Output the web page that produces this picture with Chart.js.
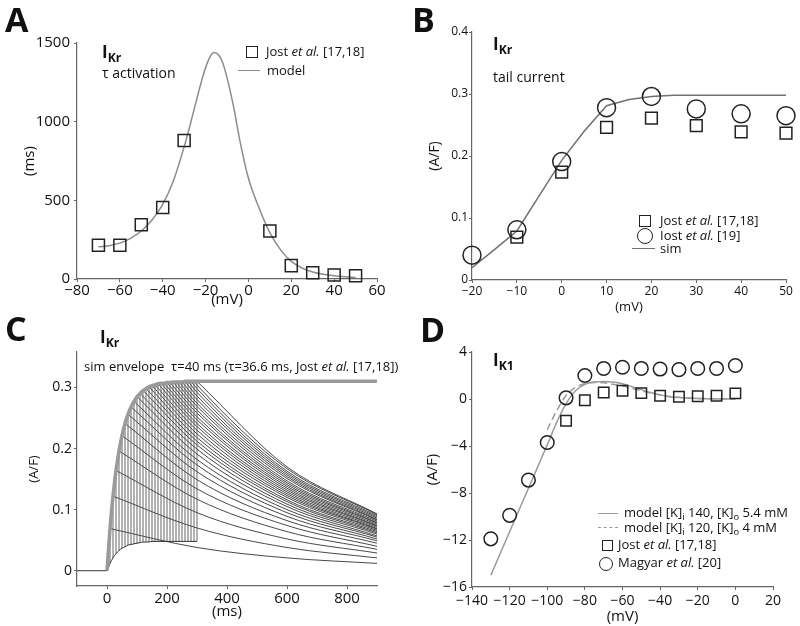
<!DOCTYPE html>
<html>
<head>
<meta charset="utf-8">
<title>IKr / IK1</title>
<script src="https://cdn.jsdelivr.net/npm/chart.js@4.4.1/dist/chart.umd.min.js"></script>
<style>
  body { margin: 0; width: 800px; height: 626px; position: relative; overflow: hidden; background: #fff;
         font-family: "Open Sans", sans-serif; color: #111; }
  canvas { position: absolute; }
  .lbl { position: absolute; white-space: pre; line-height: 1; }
  .lbl sub { vertical-align: baseline; position: relative; top: 0.3em; font-size: 0.72em; }
  .mk { position: absolute; box-sizing: border-box; border: 1.5px solid #222; background: #fff; }
  .ln { position: absolute; height: 0; }
</style>
</head>
<body>
<script>
// === A: IKr tau activation ===
const aJostVm = [-70, -60, -50, -40, -30, 10, 20, 30, 40, 50];
const aJostTau = [215, 215, 345, 455, 880, 305, 85, 40, 25, 20];
const aModelVm = [-70, -65, -60, -55, -50, -45, -40, -35, -30, -27, -24, -21, -19, -17, -16, -14, -12, -10, -7, -4, 0, 5, 10, 15, 20, 25, 30, 35, 40, 45, 50];
const aModelTau = [205, 212, 228, 258, 305, 375, 475, 625, 840, 990, 1150, 1300, 1380, 1432, 1440, 1425, 1375, 1280, 1100, 880, 640, 450, 295, 185, 112, 70, 45, 30, 20, 14, 10];
const aXTicks = [-80, -60, -40, -20, 0, 20, 40, 60];
const aYTicks = [0, 500, 1000, 1500];

// === B: IKr tail current ===
const bJostVm = [-10, 0, 10, 20, 30, 40, 50];
const bJost = [0.069, 0.174, 0.246, 0.261, 0.249, 0.239, 0.237];
const bIostVm = [-20, -10, 0, 10, 20, 30, 40, 50];
const bIost = [0.040, 0.081, 0.191, 0.278, 0.296, 0.276, 0.268, 0.265];
const bSimVm = [-20, -15, -10, -5, 0, 5, 10, 15, 20, 25, 30, 40, 50];
const bSim = [0.020, 0.049, 0.079, 0.136, 0.193, 0.240, 0.281, 0.291, 0.296, 0.298, 0.298, 0.298, 0.298];
const bXTicks = [-20, -10, 0, 10, 20, 30, 40, 50];
const bYTicks = [0, 0.1, 0.2, 0.3, 0.4];

// === C: IKr envelope of tails ===
const cPulse = [10, 20, 30, 40, 50, 60, 70, 80, 90, 100, 110, 120, 130, 140, 150, 160, 170, 180, 190, 200, 210, 220, 230, 240, 250, 260, 270, 280, 290, 300];
const cStep = [0.012, 0.021, 0.028, 0.033, 0.037, 0.039, 0.042, 0.043, 0.044, 0.045, 0.046, 0.047, 0.047, 0.047, 0.048, 0.048, 0.048, 0.048, 0.048, 0.048, 0.048, 0.048, 0.048, 0.048, 0.048, 0.048, 0.048, 0.048, 0.048, 0.048];
const cPeak = [0.069, 0.122, 0.164, 0.196, 0.221, 0.241, 0.256, 0.268, 0.277, 0.285, 0.290, 0.295, 0.298, 0.301, 0.303, 0.304, 0.306, 0.307, 0.307, 0.308, 0.308, 0.309, 0.309, 0.309, 0.309, 0.310, 0.310, 0.310, 0.310, 0.310];
const cTailT = [300, 600, 900];
const cTail300 = [0.038, 0.070, 0.095, 0.117, 0.134, 0.149, 0.162, 0.173, 0.182, 0.191, 0.199, 0.206, 0.212, 0.218, 0.224, 0.230, 0.236, 0.241, 0.247, 0.252, 0.258, 0.263, 0.269, 0.274, 0.280, 0.286, 0.292, 0.298, 0.304, 0.310];
const cTail600 = [0.021, 0.038, 0.052, 0.064, 0.074, 0.082, 0.089, 0.095, 0.100, 0.105, 0.109, 0.113, 0.116, 0.120, 0.123, 0.126, 0.129, 0.132, 0.135, 0.138, 0.141, 0.144, 0.147, 0.151, 0.154, 0.157, 0.160, 0.163, 0.167, 0.170];
const cTail900 = [0.012, 0.021, 0.029, 0.035, 0.040, 0.045, 0.049, 0.052, 0.055, 0.057, 0.060, 0.062, 0.064, 0.066, 0.068, 0.069, 0.071, 0.073, 0.074, 0.076, 0.078, 0.079, 0.081, 0.083, 0.084, 0.086, 0.088, 0.090, 0.092, 0.093];
const cBaseT = [-100, 0];
const cPlateau = 0.310;
const cXTicks = [0, 200, 400, 600, 800];
const cYTicks = [0, 0.1, 0.2, 0.3];

// === D: IK1 I-V ===
const dMagyarVm = [-130, -120, -110, -100, -90, -80, -70, -60, -50, -40, -30, -20, -10, 0];
const dMagyar = [-11.9, -9.9, -6.9, -3.7, 0.1, 2.0, 2.6, 2.7, 2.6, 2.55, 2.5, 2.6, 2.6, 2.85];
const dJostVm = [-90, -80, -70, -60, -50, -40, -30, -20, -10, 0];
const dJost = [-1.85, -0.1, 0.55, 0.7, 0.5, 0.28, 0.2, 0.23, 0.28, 0.48];
const dModel1Vm = [-130, -120, -110, -100, -95, -90, -85, -80, -75, -70, -65, -60, -55, -50, -45, -40, -35, -30, -20, -10, 0];
const dModel1 = [-15.0, -11.3, -7.6, -3.9, -2.0, -0.4, 0.7, 1.25, 1.45, 1.5, 1.45, 1.3, 1.05, 0.8, 0.55, 0.35, 0.2, 0.12, 0.04, 0.01, 0];
const dModel2Vm = [-100, -95, -90, -85, -80, -75, -70, -65, -60, -55, -50, -45, -40, -35, -30, -20, -10, 0];
const dModel2 = [-2.6, -1.0, 0.3, 1.0, 1.3, 1.4, 1.38, 1.25, 1.1, 0.9, 0.7, 0.5, 0.35, 0.22, 0.14, 0.05, 0.02, 0.01];
const dXTicks = [-140, -120, -100, -80, -60, -40, -20, 0, 20];
const dYTicks = [-16, -12, -8, -4, 0, 4];

const FONT = '"Open Sans", sans-serif';
const INK = '#111';
const AXIS = '#666';

const pts = (xs, ys) => xs.map((x, i) => ({ x: x, y: ys[i] }));

// Achse mit festen Ticks und fester Breite/Hoehe
function axis(s) {
  return {
    type: 'linear', min: s.min, max: s.max,
    afterBuildTicks: sc => { sc.ticks = s.ticks.map(v => ({ value: v })); },
    afterFit: sc => { if (sc.isHorizontal()) sc.height = s.size; else sc.width = s.size; },
    grid: { drawOnChartArea: false, tickLength: 3, color: AXIS, lineWidth: 1 },
    border: { color: AXIS, width: 1.2 },
    ticks: {
      autoSkip: false, maxRotation: 0, padding: s.tickPad, color: INK,
      font: { family: FONT, size: s.font, lineHeight: 1 },
      callback: v => String(v).replace('-', '\u2212')
    },
    title: {
      display: true, text: s.title, color: INK,
      font: { family: FONT, size: s.titleFont, lineHeight: 1 },
      padding: s.titlePad
    }
  };
}

// box = Canvas-Position, area = gewuenschte Plotflaeche (Seitenkoordinaten)
function panel(box, area, xs, ys, datasets) {
  const [L, T, W, H] = box;
  const [x0, y0, x1, y1] = area;
  const cv = document.createElement('canvas');
  cv.width = W; cv.height = H;
  cv.style.left = L + 'px'; cv.style.top = T + 'px';
  cv.style.width = W + 'px'; cv.style.height = H + 'px';
  document.body.appendChild(cv);
  xs.size = T + H - y1;
  ys.size = x0 - L;
  return new Chart(cv, {
    type: 'scatter',
    data: { datasets: datasets },
    options: {
      responsive: false, animation: false,
      layout: { autoPadding: false, padding: { left: 0, top: y0 - T, right: L + W - x1, bottom: 0 } },
      plugins: { legend: { display: false }, tooltip: { enabled: false } },
      scales: { x: axis(xs), y: axis(ys) }
    }
  });
}

function markers(data, style, radius) {
  return { data: data, showLine: false, pointStyle: style, pointRadius: radius, pointHoverRadius: radius,
           pointBorderColor: '#222', pointBorderWidth: 1.5, pointBackgroundColor: 'rgba(0,0,0,0)', clip: false };
}
function curve(data, color, width, extra) {
  return Object.assign({ data: data, showLine: true, pointRadius: 0, borderColor: color, borderWidth: width,
                         cubicInterpolationMode: 'monotone', fill: false }, extra || {});
}

// HTML-Texte
function label(x, base, html, size, weight) {
  const d = document.createElement('div');
  d.className = 'lbl';
  d.style.left = x + 'px';
  d.style.top = (base - 0.888 * size) + 'px';
  d.style.fontSize = size + 'px';
  if (weight) d.style.fontWeight = weight;
  d.innerHTML = html;
  document.body.appendChild(d);
}
function mark(cx, cy, size, round) {
  const d = document.createElement('div');
  d.className = 'mk';
  d.style.cssText = `left:${cx - size / 2}px;top:${cy - size / 2}px;width:${size}px;height:${size}px;` + (round ? 'border-radius:50%;' : '');
  document.body.appendChild(d);
}
function legLine(xa, xb, y, color, dashed) {
  const d = document.createElement('div');
  d.className = 'ln';
  d.style.cssText = `left:${xa}px;top:${y - 0.75}px;width:${xb - xa}px;border-top:1.5px ${dashed ? 'dashed' : 'solid'} ${color};`;
  document.body.appendChild(d);
}

// ---------- Panel A ----------
panel([0, 0, 400, 320], [77, 43, 377, 279],
  { min: -80, max: 60, ticks: aXTicks, font: 15, tickPad: 1.5, title: '(mV)', titleFont: 15, titlePad: { top: 0, bottom: 12.5 } },
  { min: 0, max: 1500, ticks: aYTicks, font: 15, tickPad: 4, title: '(ms)', titleFont: 15, titlePad: { top: 22.5, bottom: 0 } },
  [
    markers(pts(aJostVm, aJostTau), 'rect', 8.5),
    curve(pts(aModelVm, aModelTau), '#8c8c8c', 1.5)
  ]);

// ---------- Panel B ----------
panel([400, 0, 400, 320], [472, 32, 786, 280],
  { min: -20, max: 50, ticks: bXTicks, font: 12, tickPad: 3, title: '(mV)', titleFont: 13, titlePad: { top: 0, bottom: 6.5 } },
  { min: 0, max: 0.4, ticks: bYTicks, font: 12, tickPad: 1, title: '(A/F)', titleFont: 14, titlePad: { top: 28, bottom: 0 } },
  [
    markers(pts(bIostVm, bIost), 'circle', 9),
    markers(pts(bJostVm, bJost), 'rect', 8.3),
    curve(pts(bSimVm, bSim), '#707070', 1.5, { cubicInterpolationMode: 'default', tension: 0 })
  ]);

// ---------- Panel C ----------
const cEnv = [{ x: 0, y: 0 }].concat(pts(cPulse, cPeak), [{ x: 900, y: cPlateau }]);
const cStepCurve = pts(cBaseT, [0, 0]).concat(pts(cPulse, cStep));
const cVert = [];
cPulse.forEach((d, i) => {
  cVert.push({ x: d, y: cStep[i] }, { x: d, y: cPeak[i] }, { x: d, y: null });
});
const cTails = cPulse.map((d, i) => {
  const tailVals = [cTail300[i], cTail600[i], cTail900[i]];
  const data = [{ x: d, y: cPeak[i] }];
  cTailT.forEach((t, k) => { if (t > d) data.push({ x: t, y: tailVals[k] }); });
  return curve(data, '#333', 0.9);
});
panel([0, 313, 400, 313], [77, 352, 377, 586],
  { min: -100, max: 900, ticks: cXTicks, font: 15, tickPad: 2.5, title: '(ms)', titleFont: 15, titlePad: { top: 0, bottom: 6.5 } },
  { min: -0.025, max: 0.358, ticks: cYTicks, font: 14, tickPad: 2, title: '(A/F)', titleFont: 13, titlePad: { top: 27.5, bottom: 0 } },
  [
    curve(cEnv, '#9a9a9a', 3.5),
    curve(cStepCurve, '#333', 1),
    curve(cVert, '#555', 0.9, { cubicInterpolationMode: 'default', tension: 0, spanGaps: false })
  ].concat(cTails));

// ---------- Panel D ----------
panel([400, 313, 400, 313], [472, 352, 773, 587],
  { min: -140, max: 20, ticks: dXTicks, font: 14, tickPad: 4, title: '(mV)', titleFont: 15, titlePad: { top: 0, bottom: 1.5 } },
  { min: -16, max: 4, ticks: dYTicks, font: 14, tickPad: 2, title: '(A/F)', titleFont: 15, titlePad: { top: 25.5, bottom: 0 } },
  [
    markers(pts(dMagyarVm, dMagyar), 'circle', 6.8),
    markers(pts(dJostVm, dJost), 'rect', 7.4),
    curve(pts(dModel1Vm, dModel1), '#9a9a9a', 1.5),
    curve(pts(dModel2Vm, dModel2), '#9a9a9a', 1.5, { borderDash: [7, 4] })
  ]);

// ---------- Beschriftungen ----------
label(5, 32, 'A', 34, 700);
label(412, 32, 'B', 34, 700);
label(5, 341, 'C', 34, 700);
label(420, 342, 'D', 34, 700);

label(102, 58, 'I<sub>Kr</sub>', 17, 700);
label(102, 78, '\u03c4 activation', 14);
mark(252, 52, 12, false);
label(266, 56.5, 'Jost <i>et al.</i> [17,18]', 13);
legLine(238, 260, 71, '#8c8c8c');
label(267, 75.5, 'model', 13);

label(493, 50, 'I<sub>Kr</sub>', 17, 700);
label(493, 82, 'tail current', 14);
mark(645, 221, 11.5, false);
label(660, 225.5, 'Jost <i>et al.</i> [17,18]', 13);
mark(645, 236, 16, true);
label(660, 240.5, 'Iost <i>et al.</i> [19]', 13);
legLine(632, 655, 249, '#707070');
label(660, 254, 'sim', 13);

label(100, 343, 'I<sub>Kr</sub>', 17, 700);
label(84, 372, 'sim envelope  \u03c4=40 ms (\u03c4=36.6 ms, Jost <i>et al.</i> [17,18])', 13);

label(493, 366, 'I<sub>K1</sub>', 17, 700);
legLine(598, 618, 514, '#9a9a9a');
label(624, 518, 'model [K]<sub>i</sub> 140, [K]<sub>o</sub> 5.4 mM', 13);
legLine(598, 618, 528, '#9a9a9a', true);
label(624, 532.5, 'model [K]<sub>i</sub> 120, [K]<sub>o</sub> 4 mM', 13);
mark(607, 545, 11, false);
label(618, 549.5, 'Jost <i>et al.</i> [17,18]', 13);
mark(606, 563.5, 14, true);
label(618, 568, 'Magyar <i>et al.</i> [20]', 13);
</script>
</body>
</html>
